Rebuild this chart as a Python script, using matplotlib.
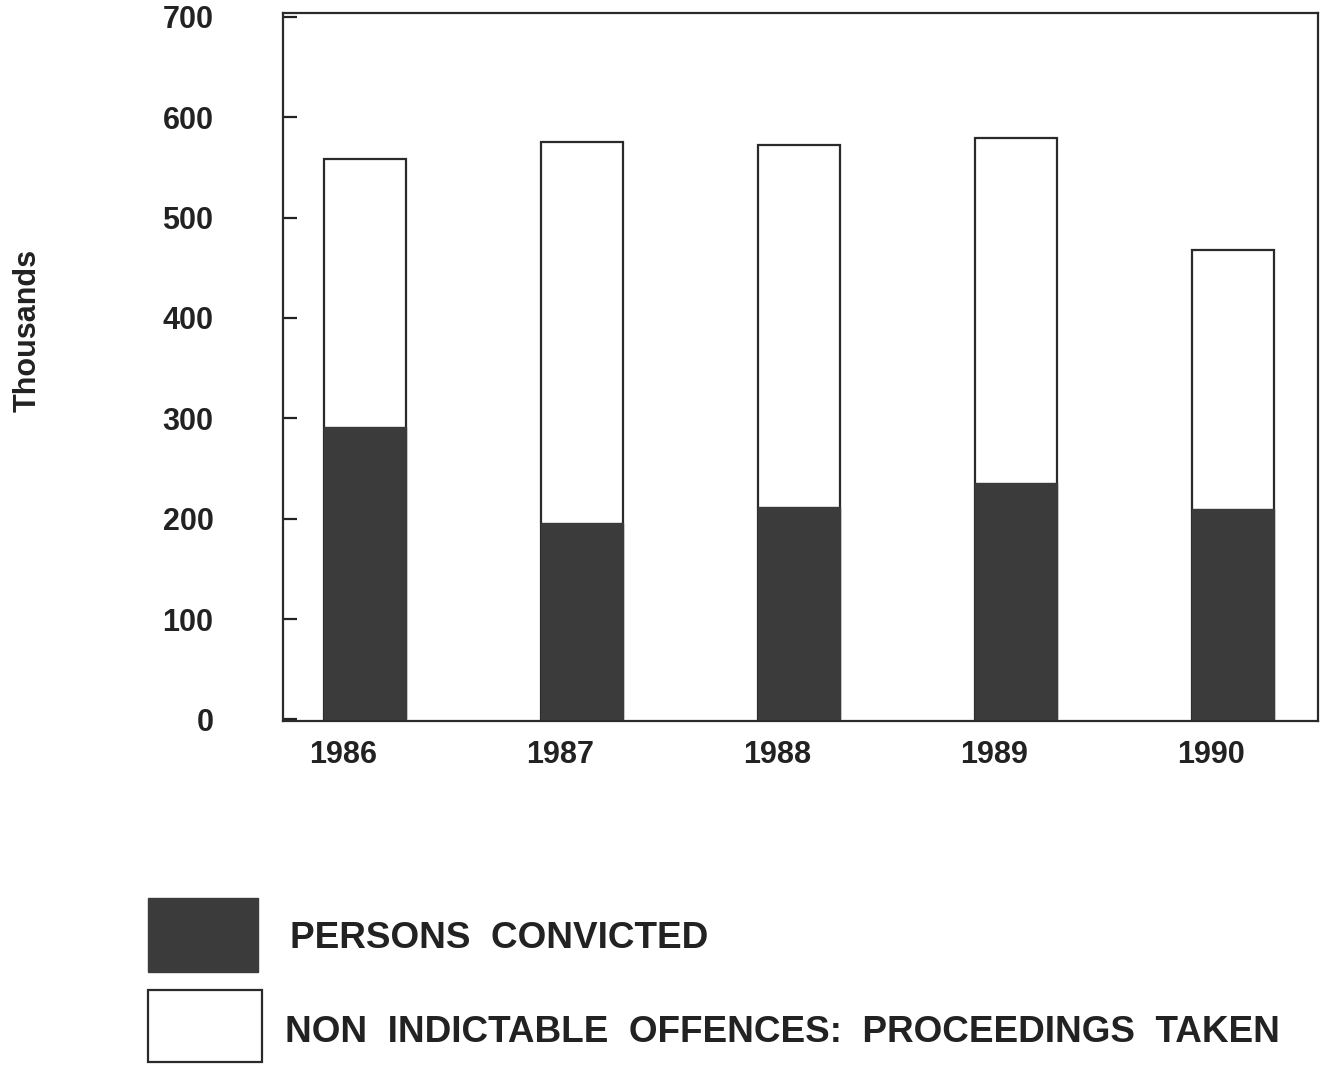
import matplotlib
matplotlib.use("Agg")
import matplotlib.pyplot as plt
from matplotlib.patches import Rectangle

plt.rcParams['font.family'] = ['Liberation Sans', 'DejaVu Sans']
plt.rcParams['font.weight'] = 'bold'

years = ['1986', '1987', '1988', '1989', '1990']
proceedings = [558, 575, 572, 579, 468]   # thousands, non indictable offences
convicted = [291, 196, 212, 236, 210]     # thousands, persons convicted
yticks = [0, 100, 200, 300, 400, 500, 600, 700]

dark = '#3b3b3b'
edge = '#2a2a2a'

fig = plt.figure(figsize=(13.25, 10.65), dpi=100)
ax = fig.add_axes([0.2136, 0.323, 0.781, 0.665])

x = list(range(len(years)))
ax.bar(x, proceedings, width=0.38, color='white', edgecolor=edge, linewidth=1.6, zorder=2)
ax.bar(x, convicted, width=0.38, color=dark, edgecolor=dark, linewidth=1.0, zorder=3)

ax.set_xlim(-0.378, 4.39)
ax.set_ylim(-1.5, 704)
ax.set_yticks(yticks)
ax.set_yticklabels([str(v) for v in yticks], fontsize=22, fontweight='bold', color='#222222')
ax.tick_params(axis='y', direction='in', length=10, width=1.6, pad=50, colors='#222222')
ax.set_xticks([i - 0.1 for i in x])
ax.set_xticklabels(years, fontsize=22, fontweight='bold', color='#222222')
ax.tick_params(axis='x', length=0, pad=14)
for s in ax.spines.values():
    s.set_linewidth(1.6)
    s.set_color(edge)

fig.text(28 / 1325, 1 - 330 / 1065, 'Thousands', rotation=90, ha='center', va='center',
         fontsize=22, fontweight='bold', color='#222222')

# legend drawn by hand, like the printed original
fig.add_artist(Rectangle((0.1117, 0.0873), 0.083, 0.0695, transform=fig.transFigure,
                         facecolor=dark, edgecolor=dark, linewidth=1.0))
fig.add_artist(Rectangle((0.1117, 0.0028), 0.086, 0.0676, transform=fig.transFigure,
                         facecolor='white', edgecolor=edge, linewidth=1.6))
fig.text(290 / 1325, 1 - 938 / 1065, 'PERSONS  CONVICTED', ha='left', va='center',
         fontsize=26.6, fontweight='bold', color='#222222')
fig.text(285 / 1325, 1 - 1033 / 1065, 'NON  INDICTABLE  OFFENCES:  PROCEEDINGS  TAKEN',
         ha='left', va='center', fontsize=26.6, fontweight='bold', color='#222222')

fig.savefig('out.png', dpi=100, facecolor='white')
